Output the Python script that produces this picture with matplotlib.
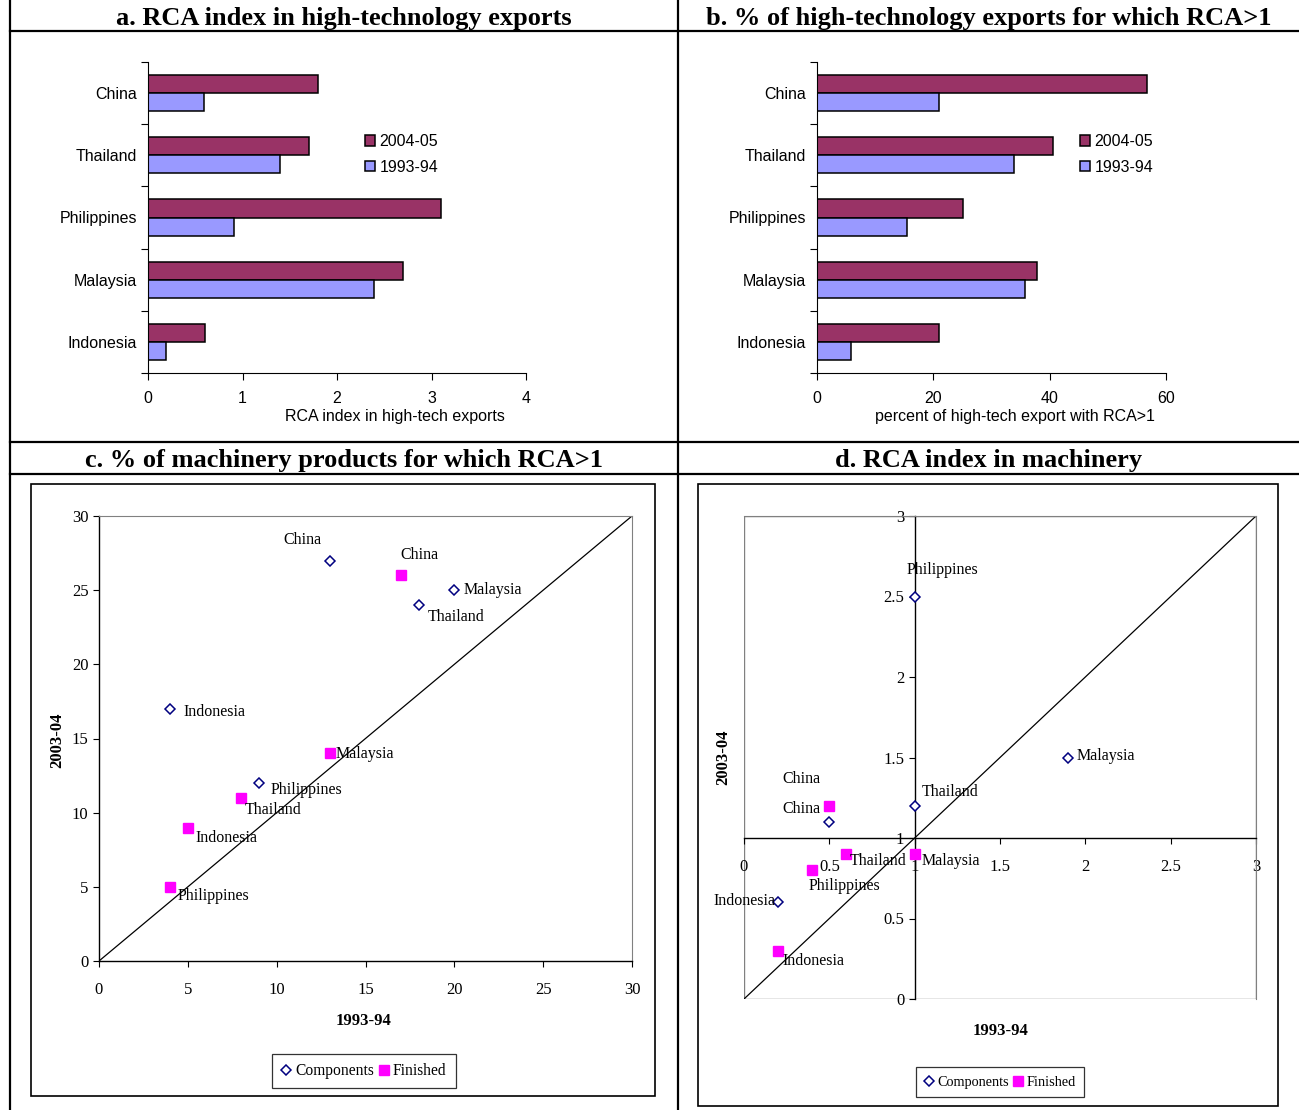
import numpy as np
import matplotlib
matplotlib.use('Agg')
import matplotlib.pyplot as plt
from matplotlib.lines import Line2D
from matplotlib.patches import Rectangle

# panels a and b (bottom to top)
countries = ['Indonesia', 'Malaysia', 'Philippines', 'Thailand', 'China']
rca_hitech_0405 = [0.6, 2.7, 3.1, 1.7, 1.8]
rca_hitech_9394 = [0.19, 2.39, 0.91, 1.4, 0.59]
pct_hitech_0405 = [21.0, 37.8, 25.1, 40.5, 56.7]
pct_hitech_9394 = [5.9, 35.7, 15.5, 33.9, 20.9]

# panels c and d
mach_countries = ['China', 'Malaysia', 'Thailand', 'Indonesia', 'Philippines']
pct_comp_9394 = [13, 20, 18, 4, 9]
pct_comp_0304 = [27, 25, 24, 17, 12]
pct_fin_9394 = [17, 13, 8, 5, 4]
pct_fin_0304 = [26, 14, 11, 9, 5]
rca_comp_9394 = [0.5, 1.9, 1.0, 0.2, 1.0]
rca_comp_0304 = [1.1, 1.5, 1.2, 0.6, 2.5]
rca_fin_9394 = [0.5, 1.0, 0.6, 0.2, 0.4]
rca_fin_0304 = [1.2, 0.9, 0.9, 0.3, 0.8]

SANS = 'Liberation Sans'
SERIF = 'Liberation Serif'
W, H = 1299, 1110

fig = plt.figure(figsize=(W / 100, H / 100), dpi=100)


def box(x0, y0, x1, y1):
    # pixel box -> figure fraction rect
    return [x0 / W, 1 - y1 / H, (x1 - x0) / W, (y1 - y0) / H]


def hline(y, x0, x1, lw=1.6):
    fig.add_artist(Line2D([x0 / W, x1 / W], [1 - y / H, 1 - y / H],
                          transform=fig.transFigure, color='black', lw=lw))


def vline(x, y0, y1, lw=1.6):
    fig.add_artist(Line2D([x / W, x / W], [1 - y0 / H, 1 - y1 / H],
                          transform=fig.transFigure, color='black', lw=lw))


# table grid
hline(31, 10, W)
hline(442, 10, W)
hline(474, 10, W)
vline(10, 0, H)
vline(678, 0, H)

titles = [('a. RCA index in high-technology exports', 344, 18),
          ('b. % of high-technology exports for which RCA>1', 989, 18),
          ('c. % of machinery products for which RCA>1', 344, 461),
          ('d. RCA index in machinery', 989, 461)]
for t, x, y in titles:
    fig.text(x / W, 1 - y / H, t, ha='center', va='center',
             family=SERIF, weight='bold', fontsize=19)


def bar_panel(rect, v_new, v_old, xmax, xstep, xlabel, xlab_x, leg_x):
    ax = fig.add_axes(rect)
    y = np.arange(len(countries))
    h = 0.29
    ax.barh(y + h / 2, v_new, h, color='#993366', edgecolor='black', lw=1.1,
            label='2004-05')
    ax.barh(y - h / 2, v_old, h, color='#9999FF', edgecolor='black', lw=1.1,
            label='1993-94')
    ax.set_ylim(-0.5, len(countries) - 0.5)
    ax.set_xlim(0, xmax)
    ax.set_xticks(np.arange(0, xmax + 0.01, xstep))
    ax.set_yticks(np.arange(-0.5, len(countries), 1))
    ax.set_yticklabels([])
    ax.set_yticks(y, minor=True)
    ax.set_yticklabels(countries, minor=True, family=SANS, fontsize=11.5)
    ax.tick_params(axis='y', which='minor', length=0, pad=8)
    ax.tick_params(axis='y', which='major', length=5, width=0.8)
    ax.tick_params(axis='x', length=5, width=0.8, pad=8, labelsize=11.5)
    for lab in ax.get_xticklabels():
        lab.set_family(SANS)
    for s in ['top', 'right']:
        ax.spines[s].set_visible(False)
    for s in ['left', 'bottom']:
        ax.spines[s].set_linewidth(0.8)
    ax.set_xlabel(xlabel, family=SANS, fontsize=11.5)
    ax.xaxis.set_label_coords(xlab_x, -0.115)
    ax.legend(loc='upper left', bbox_to_anchor=(leg_x, 0.768), frameon=False,
              handlelength=0.6, handleheight=0.6, handletextpad=0.3,
              labelspacing=0.65, borderaxespad=0, borderpad=0,
              prop={'family': SANS, 'size': 11.5})
    return ax


bar_panel(box(148, 62, 526, 373), rca_hitech_0405, rca_hitech_9394, 4, 1,
          'RCA index in high-tech exports', 0.653, 0.574)
bar_panel(box(817, 62, 1166, 373), pct_hitech_0405, pct_hitech_9394, 60, 20,
          'percent of high-tech export with RCA>1', 0.567, 0.754)

# label offsets in pixels: (dx, dy, ha)
offs_c = {
    ('c', 'China'): (-28, 21, 'center'), ('c', 'Malaysia'): (9, 0, 'left'),
    ('c', 'Thailand'): (9, -12, 'left'), ('c', 'Indonesia'): (13, -3, 'left'),
    ('c', 'Philippines'): (12, -7, 'left'),
    ('f', 'China'): (18, 20, 'center'), ('f', 'Malaysia'): (6, -1, 'left'),
    ('f', 'Thailand'): (4, -12, 'left'), ('f', 'Indonesia'): (8, -10, 'left'),
    ('f', 'Philippines'): (8, -9, 'left'),
}
offs_d = {
    ('c', 'China'): (-47, 13, 'left'), ('c', 'Malaysia'): (8, 2, 'left'),
    ('c', 'Thailand'): (7, 14, 'left'), ('c', 'Indonesia'): (-3, 1, 'right'),
    ('c', 'Philippines'): (-8, 27, 'left'),
    ('f', 'China'): (-47, 27, 'left'), ('f', 'Malaysia'): (7, -7, 'left'),
    ('f', 'Thailand'): (3, -7, 'left'), ('f', 'Indonesia'): (4, -10, 'left'),
    ('f', 'Philippines'): (-4, -16, 'left'),
}


def scatter_panel(rect, frame, cx, cy, fx_, fy_, lim, step, offs, ylab_xy,
                  xlab_xy, leg_xy, leg_size, cross=None):
    fig.add_artist(Rectangle((frame[0] / W, 1 - frame[3] / H),
                             (frame[2] - frame[0]) / W, (frame[3] - frame[1]) / H,
                             transform=fig.transFigure, fill=False,
                             ec='black', lw=1.2))
    ax = fig.add_axes(rect)
    ax.set_xlim(0, lim)
    ax.set_ylim(0, lim)
    ticks = np.arange(0, lim + 0.001, step)
    ax.set_xticks(ticks)
    ax.set_yticks(ticks)
    ax.set_xticklabels(['%g' % t for t in ticks])
    ax.set_yticklabels(['%g' % t for t in ticks])
    ax.plot([0, lim], [0, lim], color='black', lw=0.9)
    ax.plot(cx, cy, ls='none', marker='D', ms=5.5, mfc='white', mec='#000080',
            mew=1.1, label='Components', clip_on=False, zorder=3)
    ax.plot(fx_, fy_, ls='none', marker='s', ms=6.5, color='#FF00FF',
            label='Finished', clip_on=False, zorder=3)
    for ser, xs, ys in [('c', cx, cy), ('f', fx_, fy_)]:
        for name, x, y in zip(mach_countries, xs, ys):
            dx, dy, ha = offs[(ser, name)]
            ax.annotate(name, (x, y), xytext=(dx, dy), textcoords='offset pixels',
                        ha=ha, va='center', family=SERIF, fontsize=11.5)
    for s in ['top', 'right']:
        ax.spines[s].set_color('#808080')
    for s in ['left', 'bottom']:
        ax.spines[s].set_linewidth(1.0)
    if cross is not None:
        ax.spines['left'].set_position(('data', cross))
        ax.spines['bottom'].set_position(('data', cross))
        ax.add_patch(Rectangle((0, 0), 1, 1, transform=ax.transAxes, fill=False,
                               ec='#808080', lw=1.0, zorder=0.5))
    ax.tick_params(length=4, width=0.8, labelsize=12)
    ax.tick_params(axis='x', pad=11)
    for lab in ax.get_xticklabels() + ax.get_yticklabels():
        lab.set_family(SERIF)
    ax.set_xlabel('1993-94', family=SERIF, weight='bold', fontsize=12)
    ax.set_ylabel('2003-04', family=SERIF, weight='bold', fontsize=12)
    ax.xaxis.set_label_coords(*xlab_xy)
    ax.yaxis.set_label_coords(*ylab_xy)
    fig.legend(handles=ax.get_lines()[1:], loc='center',
               bbox_to_anchor=leg_xy, ncol=2, frameon=True, fancybox=False,
               edgecolor='black', handlelength=0.6, handletextpad=0.3,
               columnspacing=0.3, borderpad=0.6,
               prop={'family': SERIF, 'size': leg_size}).get_frame().set_linewidth(0.9)
    return ax


scatter_panel(box(99, 516, 632, 961), (31, 484, 655, 1096),
              pct_comp_9394, pct_comp_0304, pct_fin_9394, pct_fin_0304, 30, 5,
              offs_c, (-0.064, 0.497), (0.497, -0.117),
              (364 / W, 1 - 1071 / H), 11.2)
scatter_panel(box(744, 516, 1256, 999), (698, 484, 1278, 1106),
              rca_comp_9394, rca_comp_0304, rca_fin_9394, rca_fin_0304, 3, 0.5,
              offs_d, (-0.025, 0.5), (0.5, -0.05),
              (1000 / W, 1 - 1082 / H), 10.3, cross=1)

fig.savefig('out.png', dpi=100)
